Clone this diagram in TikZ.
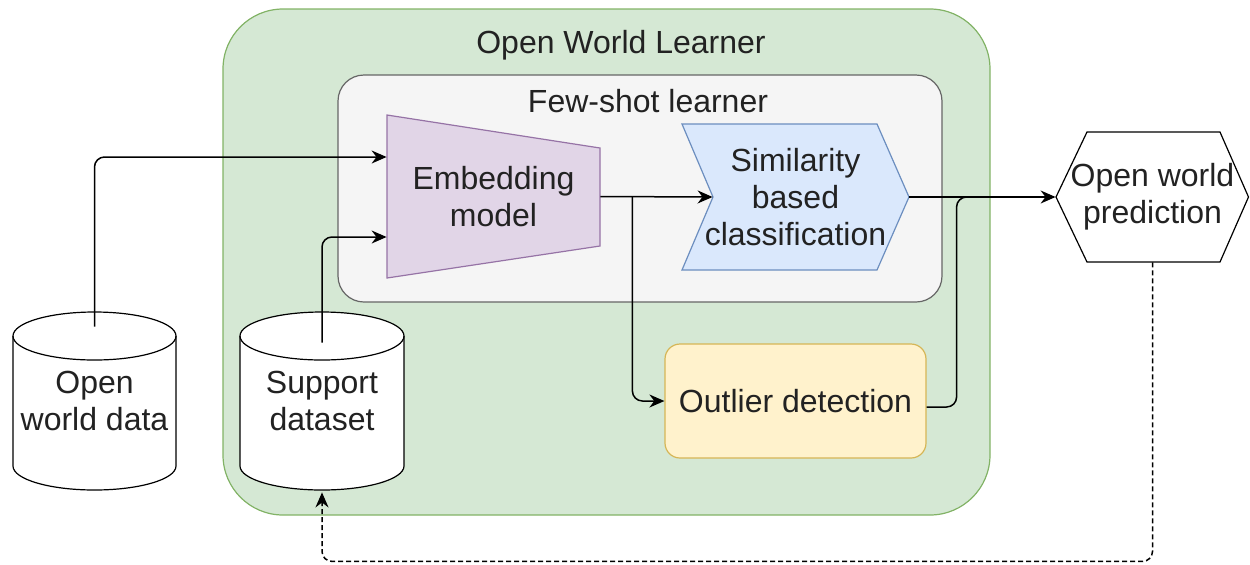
\documentclass[tikz,border=0pt]{standalone}
\usepackage{fontspec}
\setmainfont{Liberation Sans}
\usetikzlibrary{arrows.meta}
\definecolor{grnF}{HTML}{D5E8D4}
\definecolor{grnD}{HTML}{82B366}
\definecolor{gryF}{HTML}{F5F5F5}
\definecolor{gryD}{HTML}{666666}
\definecolor{purF}{HTML}{E1D5E7}
\definecolor{purD}{HTML}{9673A6}
\definecolor{bluF}{HTML}{DAE8FC}
\definecolor{bluD}{HTML}{6C8EBF}
\definecolor{yelF}{HTML}{FFF2CC}
\definecolor{yelD}{HTML}{D6B656}
\definecolor{txtC}{HTML}{222222}
\begin{document}
\begin{tikzpicture}[x=0.5pt,y=-0.5pt,
  font=\fontsize{16}{18.5}\selectfont,
  txt/.style={inner sep=0pt, align=center, text=txtC},
  box/.style={inner sep=0pt, align=center, text=txtC},
  conn/.style={line width=0.75pt, rounded corners=5pt, -{Stealth[length=7.5pt,width=6.5pt]}},
  plainline/.style={line width=0.75pt, rounded corners=5pt},
  dashconn/.style={line width=0.75pt, rounded corners=5pt, dash pattern=on 2.5pt off 1.5pt, -{Stealth[length=7.5pt,width=6.5pt]}},
  shp/.style={line width=0.6pt}
]
\useasboundingbox (0,0) rectangle (1250,564);

% containers
\node[box, draw=grnD, fill=grnF, line width=0.6pt, rounded corners=30pt,
      minimum width=383.5pt, minimum height=253pt] (owlbox) at (606.5,262) {};
\node[txt] (owl) at (621,45) {Open World Learner};
\node[box, draw=gryD, fill=gryF, line width=0.6pt, rounded corners=13pt,
      minimum width=302pt, minimum height=113.5pt] (fslbox) at (640,188.5) {};
\node[txt] (fsl) at (648,101) {Few-shot learner};

% embedding trapezoid
\draw[shp, draw=purD, fill=purF] (387,115) -- (600,148) -- (600,246) -- (387,278) -- cycle;
\node[box, minimum width=106.5pt, minimum height=81.5pt] (emb) at (493.5,196.5) {Embedding\\model};

% similarity step shape
\draw[shp, draw=bluD, fill=bluF] (682,124) -- (877,124) -- (909,197) -- (877,270) -- (682,270) -- (713,197) -- cycle;
\node[box, minimum width=113.5pt, minimum height=73pt] (sim) at (795.5,197) {Similarity\\based\\classification};

% outlier detection
\node[box, draw=yelD, fill=yelF, line width=0.6pt, rounded corners=7.5pt,
      minimum width=130.5pt, minimum height=57pt] (out) at (795.5,401) {Outlier detection};

% prediction hexagon
\draw[shp, draw=black, fill=white] (1056,197) -- (1087,132) -- (1220,132) -- (1248.5,197) -- (1220,262) -- (1087,262) -- cycle;
\node[box, minimum width=96.5pt, minimum height=65pt] (pred) at (1152.5,197) {Open world\\prediction};

% cylinders
\draw[shp, fill=white] (13,336) -- (13,466)
  arc[start angle=180, end angle=360, x radius=40.75pt, y radius=12pt] -- (176,336)
  arc[start angle=0, end angle=180, x radius=40.75pt, y radius=12pt] -- cycle;
\draw[shp] (13,336) arc[start angle=180, end angle=360, x radius=40.75pt, y radius=12pt];
\node[box, minimum width=81.5pt, minimum height=89pt] (owd) at (94.5,401) {Open\\world data};

\draw[shp, fill=white] (240,336) -- (240,466)
  arc[start angle=180, end angle=360, x radius=41pt, y radius=12pt] -- (404,336)
  arc[start angle=0, end angle=180, x radius=41pt, y radius=12pt] -- cycle;
\draw[shp] (240,336) arc[start angle=180, end angle=360, x radius=41pt, y radius=12pt];
\node[box, minimum width=82pt, minimum height=89pt] (sup) at (322,401) {Support\\dataset};

% connectors
\draw[conn] ([yshift=-7.5pt]owd.north) |- ([yshift=19.75pt]emb.west);
\draw[conn] ([yshift=-15.5pt]sup.north) |- ([yshift=-20.25pt]emb.west);
\draw[conn] (emb.east) -- ([xshift=15.5pt]sim.west);
\draw[conn] ([xshift=16pt]emb.east) |- (out.west);
\draw[conn] (sim.east) -- (pred.west);
\draw[plainline] ([yshift=-3pt]out.east) -| ([xshift=-49.5pt]pred.west) -- ([xshift=-30pt]pred.west);
\draw[dashconn] (pred.south) |- ([yshift=-35.5pt]sup.south) -- ([yshift=-1pt]sup.south);
\end{tikzpicture}
\end{document}
